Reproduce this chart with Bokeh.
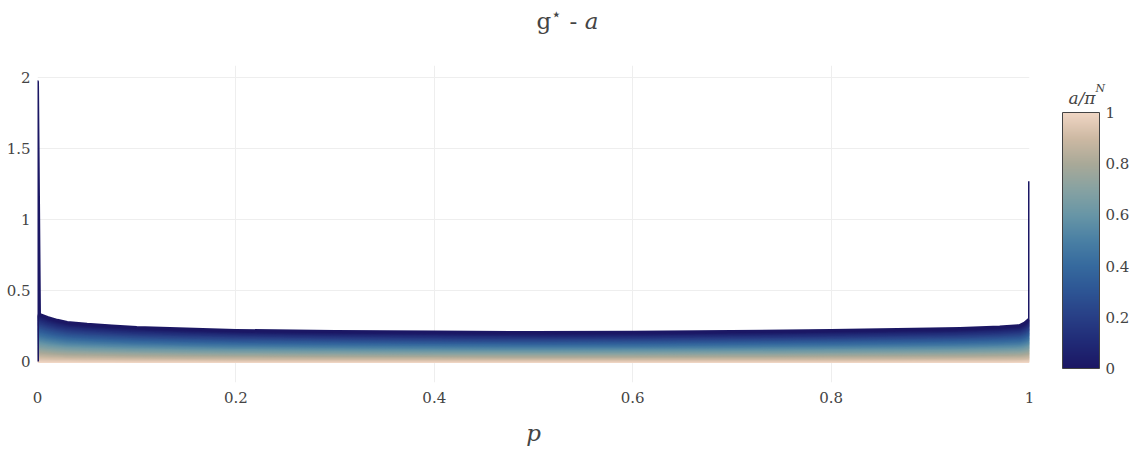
import numpy as np
from bokeh.plotting import figure
from bokeh.layouts import column, row
from bokeh.models import (ColumnDataSource, LinearColorMapper, ColorBar, FixedTicker,
                          Range1d, Div, Label)
from bokeh.transform import transform
from bokeh.embed import file_html
from bokeh.resources import INLINE

# ---------------- data ----------------
# p grid and the upper envelope (a = 0) of g* - a
p_core = [0.0, 0.002, 0.01, 0.02, 0.03, 0.05, 0.075, 0.1, 0.15, 0.2, 0.3, 0.4,
          0.5, 0.6, 0.7, 0.8, 0.9, 0.93, 0.95, 0.97, 0.99, 0.995, 1.0]
g_core = [0.335, 0.331, 0.31, 0.29, 0.275, 0.262, 0.25, 0.24, 0.228, 0.219, 0.211, 0.207,
          0.204, 0.206, 0.211, 0.218, 0.228, 0.232, 0.237, 0.243, 0.253, 0.27, 0.30]
# the a = 0 curve spikes at both ends
spike_p0 = [0.0, 1.97]   # value range of the vertical segment at p = 0
spike_p1 = 1.27          # value at p = 1
# levels of a / pi^N
a_levels = [round(0.025 * i, 3) for i in range(41)]

x_ticks = [0, 0.2, 0.4, 0.6, 0.8, 1]
x_labels = ["0", "0.2", "0.4", "0.6", "0.8", "1"]
y_ticks = [0, 0.5, 1, 1.5, 2]
y_labels = ["0", "0.5", "1", "1.5", "2"]
cb_ticks = [0, 0.2, 0.4, 0.6, 0.8, 1]
cb_labels = ["0", "0.2", "0.4", "0.6", "0.8", "1"]

# ---------------- colour scale ----------------
keys = [(0.0, "#1b1764"), (0.1, "#202a76"), (0.2, "#283f86"), (0.3, "#2d5594"),
        (0.4, "#366a9e"), (0.5, "#4a80a4"), (0.6, "#6896a6"), (0.7, "#87a2a2"),
        (0.8, "#a9a998"), (0.9, "#cdb9a3"), (1.0, "#f0d6c4")]


def hx(c):
    return np.array([int(c[i:i + 2], 16) for i in (1, 3, 5)], dtype=float)


pos = np.array([k[0] for k in keys])
cols = np.array([hx(k[1]) for k in keys])
palette = []
for t in np.linspace(0, 1, 256):
    rgb = [np.interp(t, pos, cols[:, j]) for j in range(3)]
    palette.append("#%02x%02x%02x" % tuple(int(round(v)) for v in rgb))

mapper = LinearColorMapper(palette=palette, low=0, high=1)

# ---------------- build line family ----------------
xs, ys, av = [], [], []
for a in sorted(a_levels, reverse=True):
    if a == 0:
        px = [0.0, 0.0] + p_core[1:-1] + [p_core[-1], 1.0]
        py = list(spike_p0) + g_core[1:-1] + [g_core[-1], spike_p1]
    else:
        px = list(p_core)
        py = [g * (1 - a) for g in g_core]
    xs.append(px)
    ys.append(py)
    av.append(a)

src = ColumnDataSource(dict(xs=xs, ys=ys, a=av))

FONT = "DejaVu Serif"
TXT = "#444444"

# ---------------- main plot ----------------
p = figure(width=1050, height=387, output_backend="svg", toolbar_location=None, title=None,
           x_range=Range1d(0, 1), y_range=Range1d(-0.148, 2.085),
           min_border_left=37, min_border_top=0, min_border_bottom=70, min_border_right=21)

p.multi_line(xs="xs", ys="ys", source=src, line_color=transform("a", mapper),
             line_width=3, line_join="round")

p.outline_line_color = None
p.background_fill_color = "white"
for ax in (p.xaxis, p.yaxis):
    ax.axis_line_color = None
    ax.major_tick_line_color = None
    ax.minor_tick_line_color = None
    ax.major_tick_out = 0
    ax.major_tick_in = 0
    ax.minor_tick_out = 0
    ax.major_label_text_font = FONT
    ax.major_label_text_font_size = "15px"
    ax.major_label_text_color = TXT

p.xaxis.ticker = FixedTicker(ticks=x_ticks)
p.xaxis.major_label_overrides = {t: l for t, l in zip(x_ticks, x_labels)}
p.yaxis.ticker = FixedTicker(ticks=y_ticks)
p.yaxis.major_label_overrides = {t: l for t, l in zip(y_ticks, y_labels)}
p.xaxis.major_label_standoff = 9
p.yaxis.major_label_standoff = 7

p.xaxis.axis_label = "p"
p.xaxis.axis_label_text_font = FONT
p.xaxis.axis_label_text_font_style = "italic"
p.xaxis.axis_label_text_font_size = "23px"
p.xaxis.axis_label_text_color = TXT
p.xaxis.axis_label_standoff = 14

p.xgrid.grid_line_color = "#eeeeee"
p.ygrid.grid_line_color = "#eeeeee"
p.xgrid.ticker = FixedTicker(ticks=x_ticks)
p.ygrid.ticker = FixedTicker(ticks=y_ticks)

# ---------------- colour bar panel (its frame is aligned with the main frame) ----------------
cbf = figure(width=85, height=387, output_backend="svg", toolbar_location=None, title=None,
             x_range=Range1d(0, 1), y_range=Range1d(0, 1),
             x_axis_type=None, y_axis_type=None,
             min_border_left=0, min_border_right=0, min_border_top=0, min_border_bottom=0)
cbf.outline_line_color = None
cbf.grid.visible = False

cb = ColorBar(color_mapper=mapper, width=37, height=256, location=(12, 14),
              ticker=FixedTicker(ticks=cb_ticks),
              major_label_overrides={t: l for t, l in zip(cb_ticks, cb_labels)},
              major_label_text_font=FONT, major_label_text_font_size="15px",
              major_label_text_color=TXT, major_tick_line_color=None,
              bar_line_color="#444444", bar_line_width=1, label_standoff=6,
              padding=0, background_fill_color=None, border_line_color=None)
cbf.add_layout(cb, "center")

for txt, x, y, sz in [("a/\u03c0", 18, 285, "17px"), ("N", 45, 294, "11px")]:
    cbf.add_layout(Label(x=x, y=y, x_units="screen", y_units="screen", text=txt,
                         text_font=FONT, text_font_style="italic", text_font_size=sz,
                         text_color=TXT, text_baseline="alphabetic"))

# ---------------- title ----------------
title_html = ('<div style="width:1135px;text-align:center;font-family:\'DejaVu Serif\';'
              'font-size:23px;color:#444444;padding-top:2px;">'
              'g<sup style="font-size:17px;">\u22c6</sup> - <i>a</i></div>')
title = Div(text=title_html, width=1135, height=65, margin=0)

layout = column(title, row(p, cbf, spacing=0), spacing=0)

open("out.html", "w").write(file_html(layout, INLINE))
